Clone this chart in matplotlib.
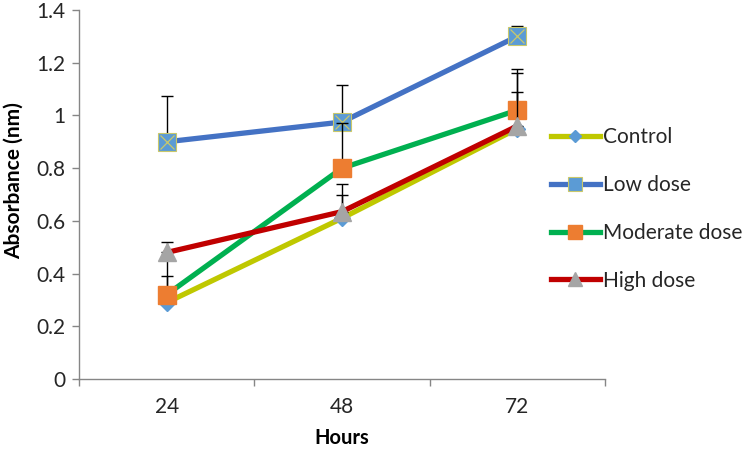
import matplotlib
matplotlib.use("Agg")
import matplotlib.pyplot as plt
import numpy as np

plt.rcParams["font.family"] = ["Lato", "DejaVu Sans"]

hours = ["24", "48", "72"]
control = [0.29, 0.61, 0.95]
low_dose = [0.90, 0.975, 1.30]
moderate_dose = [0.32, 0.80, 1.02]
high_dose = [0.48, 0.635, 0.96]

control_err = [0.10, 0.09, 0.21]
low_err = [0.175, 0.14, 0.04]
moderate_err = [0.15, 0.17, 0.155]
high_err = [0.04, 0.105, 0.13]

x = np.arange(len(hours))
zero = np.zeros(len(hours))

fig = plt.figure(figsize=(7.45, 4.53), dpi=100)
ax = fig.add_axes([79 / 745, 1 - 379 / 453, 526 / 745, 369 / 453])

series = [
    ("Control", control, control_err, "#BFC800", dict(marker="D", ms=8, mfc="#5B9BD5", mec="#5B9BD5")),
    ("Low dose", low_dose, low_err, "#4472C4", dict(marker="s", ms=13, mfc="#5B9BD5", mec="#C9C86A", mew=0.8)),
    ("Moderate dose", moderate_dose, moderate_err, "#00B050", dict(marker="s", ms=13, mfc="#ED7D31", mec="#ED7D31")),
    ("High dose", high_dose, high_err, "#C00000", dict(marker="^", ms=13, mfc="#A5A5A5", mec="#A5A5A5")),
]

for i, (name, vals, err, col, mk) in enumerate(series):
    ax.errorbar(x, vals, yerr=[zero, err], fmt="none", ecolor="black",
                elinewidth=1, capsize=4, capthick=1, zorder=1 + i * 3)
    ax.plot(x, vals, color=col, lw=3.8, zorder=2 + i * 3, **mk)
    if name == "Low dose":
        ax.plot(x, vals, ls="none", marker="x", ms=10, mec="#C9C86A", mew=0.9, zorder=3 + i * 3)

ax.set_xlim(-0.5, 2.5)
ax.set_ylim(0, 1.4)
ax.set_yticks(np.arange(0, 1.41, 0.2))
ax.set_yticklabels(["0", "0.2", "0.4", "0.6", "0.8", "1", "1.2", "1.4"])
ax.set_xticks(x)
ax.set_xticklabels(hours)
ax.set_xticks([-0.5, 0.5, 1.5, 2.5], minor=True)
ax.tick_params(axis="x", which="major", length=0, pad=13, labelsize=15, labelcolor="#262626")
ax.tick_params(axis="x", which="minor", length=5, color="#868686", width=1)
ax.tick_params(axis="y", length=5, color="#868686", width=1, labelsize=15, labelcolor="#262626", pad=5)

for s in ["top", "right"]:
    ax.spines[s].set_visible(False)
for s in ["left", "bottom"]:
    ax.spines[s].set_color("#868686")
    ax.spines[s].set_linewidth(1)

ax.set_xlabel("Hours", fontsize=14.5, fontweight="bold")
ax.set_ylabel("Absorbance (nm)", fontsize=15, fontweight="bold")
ax.xaxis.set_label_coords(0.5, -(438 - 379) / 369)
ax.yaxis.set_label_coords((14 - 79) / 526, (379 - 181) / 369)
ax.xaxis.label.set_va("center")
ax.yaxis.label.set_va("center")

leg_handles = []
for name, vals, err, col, mk in series:
    small = dict(mk)
    small["ms"] = mk["ms"] * 0.8
    leg_handles.append(plt.Line2D([], [], color=col, lw=3.8, **small))
fig.legend(leg_handles, [s[0] for s in series], loc="upper left",
           bbox_to_anchor=(551 / 745, 1 - 127 / 453), frameon=False,
           fontsize=15, handlelength=2.35, handletextpad=0.15, labelspacing=1.34,
           borderpad=0, borderaxespad=0, labelcolor="#262626")

fig.savefig("out.png", dpi=100)
